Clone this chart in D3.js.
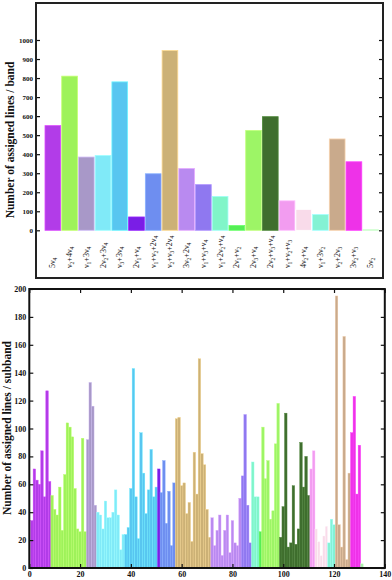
<!DOCTYPE html>
<html>
<head>
<meta charset="utf-8">
<script src="https://cdn.jsdelivr.net/npm/d3@7"></script>
<style>
    body { margin: 0; background: #fff; }
    svg { display: block; font-family: "Liberation Serif", "Times New Roman", serif; }
</style>
</head>
<body>
<svg id="grafico" width="392" height="580"></svg>
<script>

const bandas = [
    "5ν4", "ν2+4ν4", "ν1+3ν4", "2ν2+3ν4", "ν3+3ν4",
    "2ν1+ν4", "ν1+ν2+2ν4", "ν2+ν3+2ν4", "3ν2+2ν4", "ν1+ν3+ν4",
    "ν1+2ν2+ν4", "2ν1+ν2", "2ν3+ν4", "2ν2+ν3+ν4", "ν1+ν2+ν3",
    "4ν2+ν4", "ν1+3ν2", "ν2+2ν3", "3ν2+ν3", "5ν2"
];

const lineasBanda = [
    550, 810, 385, 393, 780, 70, 297, 945, 325, 240,
    178, 25, 525, 597, 155, 110, 83, 480, 360, 3
];

const colores = [
    "#b23ce8", "#9ef25a", "#a898c8", "#80eaf8", "#58c6f0",
    "#7a1ee6", "#6e8ef0", "#ccb176", "#b98af0", "#8f78f0",
    "#80f5c8", "#55ee55", "#9df566", "#3f6e2e", "#f29cf0",
    "#f9dbea", "#84f2d4", "#c9aa8c", "#ee32e8", "#a8f0a8"
];

// number of subbands of each band, in the order of the bands
const subbandasPorBanda = [8, 14, 4, 11, 13, 1, 6, 14, 12, 4, 3, 1, 7, 12, 2, 5, 3, 6, 4, 1];

const lineasSubbanda = [
    34, 71, 63, 60, 84, 51, 127, 62,
    52, 42, 38, 58, 27, 67, 104, 101, 94, 57, 28, 26, 93, 26,
    92, 133, 116, 45,
    40, 38, 28, 48, 36, 36, 40, 56, 38, 13, 24,
    24, 29, 57, 143, 51, 21, 97, 68, 39, 56, 85, 51, 58,
    71,
    54, 77, 32, 55, 16, 61,
    107, 108, 59, 61, 39, 47, 19, 83, 53, 150, 82, 74, 42, 22,
    36, 16, 27, 38, 9, 27, 38, 11, 34, 18, 16, 50,
    66, 110, 45, 18,
    76, 51, 51,
    26,
    101, 64, 77, 35, 41, 89, 118,
    22, 44, 111, 15, 18, 59, 17, 28, 90, 58, 80, 52,
    71, 84,
    28, 19, 9, 23, 30,
    18, 35, 31,
    195, 31, 15, 166, 6, 68,
    97, 123, 53, 88,
    3
];

const ticksBanda = [0, 100, 200, 300, 400, 500, 600, 700, 800, 900, 1000];
const ticksSubX = [0, 20, 40, 60, 80, 100, 120, 140];
const ticksSubY = [0, 20, 40, 60, 80, 100, 120, 140, 160, 180, 200];

const svg = d3.select("#grafico");

// band index of every subband
const bandaDeSub = [];
subbandasPorBanda.forEach((n, b) => {
    for (let k = 0; k < n; k++) bandaDeSub.push(b);
});

function estiloEje(g) {
    g.select(".domain").remove();
    g.selectAll("line").attr("stroke", "#111").attr("stroke-width", 1.2);
    g.selectAll("text")
        .attr("fill", "#111")
        .style("font-family", "'Liberation Serif', serif")
        .style("font-weight", "bold");
}

// ---------- top panel: lines per band ----------

const caja1 = { izq: 36, der: 383, sup: 3, inf: 278 };

const yBanda = d3.scaleLinear()
    .domain([0, 1000])
    .range([230.3, 40]);

const xBanda = d3.scaleBand()
    .domain(d3.range(bandas.length))
    .range([45, 378.5])
    .paddingInner(0.06);

svg.append("g")
    .selectAll("rect")
    .data(lineasBanda)
    .enter()
    .append("rect")
    .attr("x", (d, i) => xBanda(i))
    .attr("y", d => yBanda(d))
    .attr("width", xBanda.bandwidth())
    .attr("height", d => yBanda(0) - yBanda(d))
    .attr("fill", (d, i) => colores[i])
    .attr("stroke", (d, i) => d3.color(colores[i]).brighter(0.6))
    .attr("stroke-width", 0.8);

svg.append("g")
    .attr("transform", `translate(${caja1.izq},0)`)
    .call(d3.axisLeft(yBanda).tickValues(ticksBanda).tickFormat(d3.format("d"))
        .tickSize(-4).tickPadding(3))
    .call(estiloEje)
    .selectAll("text").style("font-size", "7px");

svg.append("g")
    .attr("transform", `translate(${caja1.der},0)`)
    .call(d3.axisRight(yBanda).tickValues(ticksBanda).tickSize(-4).tickFormat(""))
    .call(estiloEje);

svg.append("rect")
    .attr("x", caja1.izq)
    .attr("y", caja1.sup)
    .attr("width", caja1.der - caja1.izq)
    .attr("height", caja1.inf - caja1.sup)
    .attr("fill", "none")
    .attr("stroke", "#222")
    .attr("stroke-width", 2);

// band names, written upward with subscripts
bandas.forEach((nombre, i) => {

    const t = svg.append("text")
        .attr("transform",
            `translate(${xBanda(i) + xBanda.bandwidth() / 2 + 2.5},268) rotate(-90)`)
        .style("font-size", "8px")
        .attr("fill", "#111");

    let abajo = false;
    nombre.split(/(?<=ν)(\d)/).forEach(parte => {
        if (parte === "") return;
        const esSub = /^\d$/.test(parte) && t.text().slice(-1) === "ν";
        const ts = t.append("tspan").text(parte);
        if (esSub) {
            ts.attr("dy", 2).style("font-size", "5.5px");
            abajo = true;
        } else if (abajo) {
            ts.attr("dy", -2);
            abajo = false;
        }
    });
});

svg.append("text")
    .attr("transform", "translate(14,140) rotate(-90)")
    .attr("text-anchor", "middle")
    .style("font-size", "11.5px")
    .style("font-weight", "bold")
    .attr("fill", "#111")
    .text("Number of assigned lines / band");

// ---------- bottom panel: lines per subband ----------

const caja2 = { izq: 29.3, der: 384.8, sup: 289, inf: 568 };

const xSub = d3.scaleLinear()
    .domain([0, 140])
    .range([caja2.izq, caja2.der]);

const ySub = d3.scaleLinear()
    .domain([0, 200])
    .range([caja2.inf, caja2.sup]);

svg.append("g")
    .selectAll("rect")
    .data(lineasSubbanda)
    .enter()
    .append("rect")
    .attr("x", (d, i) => xSub(i + 0.5))
    .attr("y", d => ySub(d))
    .attr("width", xSub(1) - xSub(0))
    .attr("height", d => ySub(0) - ySub(d))
    .attr("fill", (d, i) => colores[bandaDeSub[i]])
    .attr("stroke", (d, i) => d3.color(colores[bandaDeSub[i]]).brighter(0.5))
    .attr("stroke-width", 0.4);

svg.append("g")
    .attr("transform", `translate(0,${caja2.inf})`)
    .call(d3.axisBottom(xSub).tickValues(ticksSubX).tickSize(-4).tickPadding(3))
    .call(estiloEje)
    .selectAll("text").style("font-size", "8px");

svg.append("g")
    .attr("transform", `translate(0,${caja2.sup})`)
    .call(d3.axisTop(xSub).tickValues(ticksSubX).tickSize(-4).tickFormat(""))
    .call(estiloEje);

svg.append("g")
    .attr("transform", `translate(${caja2.izq},0)`)
    .call(d3.axisLeft(ySub).tickValues(ticksSubY).tickSize(-4).tickPadding(3))
    .call(estiloEje)
    .selectAll("text").style("font-size", "8px");

svg.append("g")
    .attr("transform", `translate(${caja2.der},0)`)
    .call(d3.axisRight(ySub).tickValues(ticksSubY).tickSize(-4).tickFormat(""))
    .call(estiloEje);

svg.append("rect")
    .attr("x", caja2.izq)
    .attr("y", caja2.sup)
    .attr("width", caja2.der - caja2.izq)
    .attr("height", caja2.inf - caja2.sup)
    .attr("fill", "none")
    .attr("stroke", "#111")
    .attr("stroke-width", 2);

svg.append("text")
    .attr("transform", "translate(11,428) rotate(-90)")
    .attr("text-anchor", "middle")
    .style("font-size", "11.5px")
    .style("font-weight", "bold")
    .attr("fill", "#111")
    .text("Number of assigned lines / subband");

</script>
</body>
</html>
